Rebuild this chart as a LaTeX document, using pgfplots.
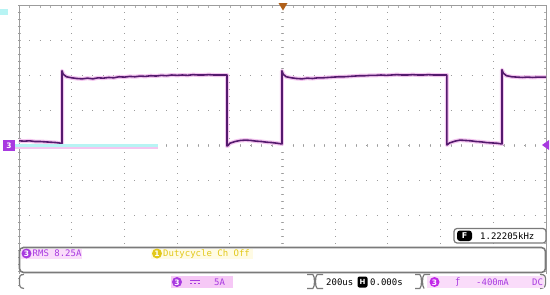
\documentclass[border=0pt]{standalone}
\usepackage{pgfplots}
\pgfplotsset{compat=1.18}
\usepackage{pgfplotstable}
\usepackage{fontspec}
\setmonofont{DejaVu Sans Mono}
\setsansfont{DejaVu Sans}
\definecolor{gridc}{HTML}{9C9C9C}
\definecolor{tracec}{HTML}{551A6E}
\definecolor{haloc}{HTML}{F4C6F0}
\definecolor{purp}{HTML}{A83AE0}
\definecolor{pinkbg}{HTML}{FADCFA}
\definecolor{pinkbg2}{HTML}{F6C8F6}
\definecolor{yel}{HTML}{E2C81A}
\definecolor{yelbg}{HTML}{FFFBE4}
\definecolor{boxc}{HTML}{7A7A7A}
\definecolor{cyanc}{HTML}{B8F4F4}
\definecolor{trig}{HTML}{B0601A}
\pgfplotstableread{
x y
0.00 0.12
0.10 0.11
0.20 0.12
0.30 0.10
0.40 0.10
0.50 0.09
0.60 0.08
0.70 0.07
0.80 0.05
0.816 0.04
0.816 2.12
0.84 2.02
0.90 1.95
1.00 1.92
1.10 1.90
1.20 1.89
1.30 1.91
1.40 1.89
1.50 1.92
1.60 1.91
1.70 1.93
1.80 1.92
1.90 1.95
2.00 1.94
2.10 1.96
2.20 1.95
2.30 1.97
2.40 1.96
2.50 1.98
2.60 1.97
2.70 1.99
2.80 1.98
2.90 2.00
3.00 1.99
3.10 2.00
3.20 1.99
3.30 2.01
3.40 2.00
3.50 2.00
3.60 2.01
3.70 2.00
3.80 2.00
3.90 2.00
3.947 2.00
3.947 -0.03
3.97 -0.01
4.00 0.05
4.10 0.10
4.20 0.13
4.30 0.14
4.40 0.13
4.50 0.11
4.60 0.10
4.70 0.08
4.80 0.07
4.90 0.05
4.99 0.03
4.99 2.12
5.014 2.02
5.07 1.95
5.17 1.92
5.27 1.90
5.37 1.89
5.47 1.91
5.57 1.90
5.67 1.92
5.77 1.92
5.87 1.93
5.97 1.94
6.07 1.95
6.17 1.95
6.27 1.96
6.37 1.97
6.47 1.98
6.57 1.98
6.67 1.99
6.77 1.99
6.87 2.00
6.97 1.99
7.07 2.00
7.17 2.01
7.27 2.00
7.37 2.00
7.47 2.01
7.57 2.00
7.67 2.00
7.77 2.01
7.87 2.00
7.97 2.00
8.07 2.00
8.12 2.00
8.12 0.00
8.17 0.06
8.27 0.11
8.37 0.14
8.47 0.13
8.57 0.12
8.67 0.10
8.77 0.09
8.87 0.07
8.97 0.06
9.07 0.05
9.165 0.03
9.165 2.15
9.19 2.05
9.25 1.98
9.35 1.95
9.45 1.94
9.55 1.93
9.65 1.94
9.75 1.93
9.85 1.94
9.95 1.94
10.00 1.94
}\trace
\begin{document}
\begin{tikzpicture}
\fill[white] (0pt,0pt) rectangle (550pt,-295pt);
% centre-line ticks
\begin{axis}[at={(19pt,-285pt)}, anchor=south west, scale only axis,
  width=527pt, height=280pt, xmin=-5, xmax=5, ymin=-4, ymax=4,
  axis lines=middle, axis line style={draw=none},
  xtick={-5,...,5}, ytick={-4,...,4}, minor x tick num=4, minor y tick num=4,
  xticklabels={}, yticklabels={}, tick align=center,
  major tick length=3pt, minor tick length=3pt,
  tick style={gridc!80, line width=0.6pt}]
\end{axis}
% graticule and trace
\begin{axis}[at={(19pt,-285pt)}, anchor=south west, scale only axis,
  width=527pt, height=280pt, xmin=0, xmax=10, ymin=-4, ymax=4,
  xtick={0,...,10}, ytick={-4,...,4}, minor x tick num=4, minor y tick num=4,
  xticklabels={}, yticklabels={}, tick align=inside,
  major tick length=2.5pt, minor tick length=2.5pt,
  tick style={gridc!80, line width=0.6pt},
  grid=major,
  x grid style={gridc, line width=1pt, dash pattern=on 1pt off 6pt, dash phase=0.5pt},
  y grid style={gridc, line width=1pt, dash pattern=on 1pt off 9.54pt, dash phase=0.5pt},
  axis line style={gridc, line width=0.9pt}]
\addplot[haloc, line width=4pt, line join=round, no markers] table[x=x,y=y] {\trace};
\addplot[tracec, line width=1.6pt, line join=round, no markers] table[x=x,y=y] {\trace};
\end{axis}
\begin{scope}[x=1pt,y=-1pt]
% markers
\fill[cyanc] (0,9) rectangle (8,15);
\fill[cyanc] (15,144) rectangle (158,146.5);
\fill[haloc] (15,146.8) rectangle (158,149);
\fill[purp] (3,140) rectangle (15,150.5);
\node[font=\sffamily\bfseries\fontsize{7.5}{8}\selectfont, text=white, inner sep=0] at (9,145.3) {3};
\fill[purp] (542,145) -- (549,140) -- (549,150) -- cycle;
\fill[trig] (278.5,3) -- (287.5,3) -- (283,10.5) -- cycle;
% frequency box
\filldraw[fill=white, draw=boxc, line width=1.2pt, rounded corners=3pt] (454,228.5) rectangle (546,243);
\fill[black, rounded corners=3pt] (457,230.5) rectangle (472,241);
\node[font=\sffamily\bfseries\fontsize{8}{8}\selectfont, text=white, inner sep=0] at (464.5,235.8) {F};
\node[font=\ttfamily\fontsize{9}{10}\selectfont, anchor=west, inner sep=0] at (480,236) {1.22205kHz};
% measurement box
\filldraw[fill=white, draw=boxc, line width=1.6pt, rounded corners=4pt] (19.5,247.5) rectangle (545.5,272.5);
\fill[pinkbg] (20.5,248.5) rectangle (82,259);
\fill[purp] (26.5,253.5) circle[radius=5pt];
\node[font=\sffamily\bfseries\fontsize{7.5}{8}\selectfont, text=white, inner sep=0] at (26.5,253.8) {3};
\node[font=\ttfamily\fontsize{9}{10}\selectfont, text=purp, anchor=west, inner sep=0] at (32.5,253.5) {RMS 8.25A};
\fill[yelbg] (151,248.5) rectangle (253,259);
\fill[yel] (157,253.5) circle[radius=5pt];
\node[font=\sffamily\bfseries\fontsize{7.5}{8}\selectfont, text=white, inner sep=0] at (157,253.8) {1};
\node[font=\ttfamily\fontsize{9}{10}\selectfont, text=yel, anchor=west, inner sep=0] at (163,253.5) {Dutycycle Ch Off};
% status bar
\fill[white] (19,274) rectangle (547,295);
\draw[boxc, line width=1.2pt] (24,274.5) .. controls (19.5,274.5) and (19.5,276) .. (19.5,281) .. controls (19.5,286) and (19.5,288) .. (24,288.5);
\draw[boxc, line width=1.2pt] (307,274.5) -- (313,274.5) (313,274.5) .. controls (315,277) and (315,286) .. (313,288.5) (307,288.5) -- (313,288.5);
\draw[boxc, line width=1.2pt] (323,274.5) -- (317,274.5) (317,274.5) .. controls (315,277) and (315,286) .. (317,288.5) (323,288.5) -- (317,288.5);
\draw[boxc, line width=1.2pt] (415,274.5) -- (420,274.5) (420,274.5) .. controls (422,277) and (422,286) .. (420,288.5) (415,288.5) -- (420,288.5);
\draw[boxc, line width=1.2pt] (430,274.5) -- (424,274.5) (424,274.5) .. controls (422,277) and (422,286) .. (424,288.5);
\draw[boxc, line width=1.2pt] (540,274.5) .. controls (545.5,274.5) and (545.5,276) .. (545.5,281) .. controls (545.5,286) and (545.5,288) .. (540,288.5);
\fill[pinkbg2] (171,276) rectangle (233,288);
\fill[purp] (177,282) circle[radius=5pt];
\node[font=\sffamily\bfseries\fontsize{7.5}{8}\selectfont, text=white, inner sep=0] at (177,282.3) {3};
\draw[purp, line width=1.2pt] (190,280.5) -- (200,280.5);
\draw[purp, line width=1.2pt, dash pattern=on 2pt off 2pt] (190,283.5) -- (200,283.5);
\node[font=\ttfamily\fontsize{9}{10}\selectfont, text=purp, anchor=west, inner sep=0] at (214,282) {5A};
\node[font=\ttfamily\fontsize{9}{10}\selectfont, anchor=west, inner sep=0] at (326,282) {200us};
\fill[black, rounded corners=2pt] (357.5,276.5) rectangle (367.5,287.5);
\node[font=\sffamily\bfseries\fontsize{7}{8}\selectfont, text=white, inner sep=0] at (362.5,282.2) {H};
\node[font=\ttfamily\fontsize{9}{10}\selectfont, anchor=west, inner sep=0] at (370,282) {0.000s};
\fill[pinkbg] (427,276) rectangle (544,288);
\fill[purp!70!magenta] (434.5,282) circle[radius=5pt];
\node[font=\sffamily\bfseries\fontsize{7.5}{8}\selectfont, text=white, inner sep=0] at (434.5,282.3) {3};
\node[font=\ttfamily\fontsize{9}{10}\selectfont, text=purp, anchor=west, inner sep=0] at (455,282) {ƒ};
\node[font=\ttfamily\fontsize{9}{10}\selectfont, text=purp, anchor=west, inner sep=0] at (476,282) {-400mA};
\node[font=\ttfamily\fontsize{9}{10}\selectfont, text=purp, anchor=west, inner sep=0] at (532,282) {DC};
\end{scope}
\end{tikzpicture}
\end{document}
